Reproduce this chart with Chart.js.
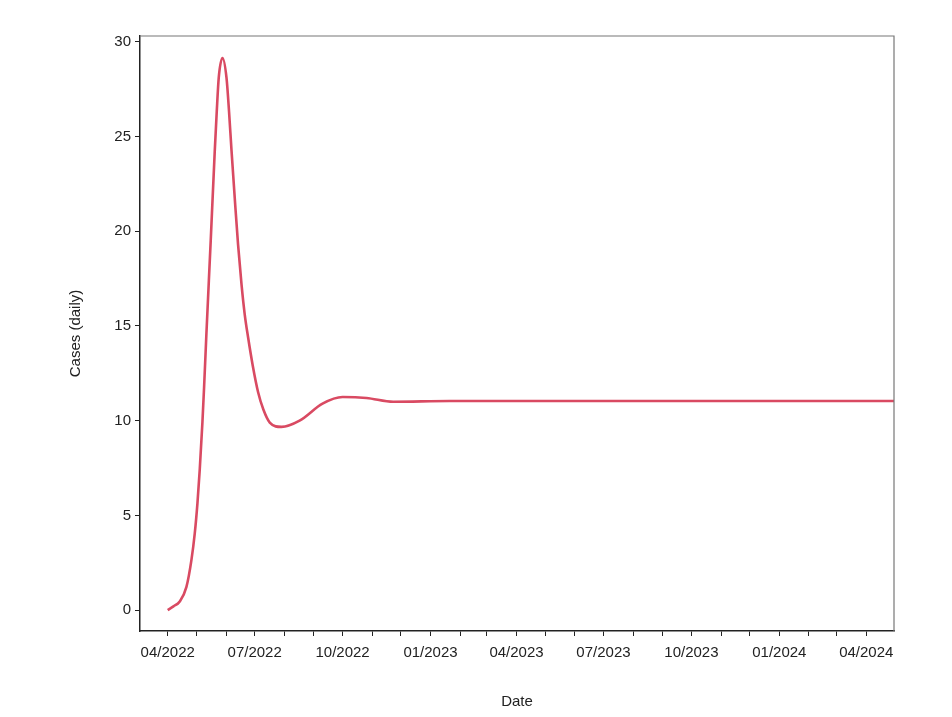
<!DOCTYPE html>
<html>
<head>
<meta charset="utf-8">
<script src="https://cdn.jsdelivr.net/npm/chart.js@4"></script>
<style>
  html, body { margin: 0; padding: 0; background: #fff; }
  #wrap { width: 952px; height: 717px; }
</style>
</head>
<body>
<div id="wrap"><canvas id="casesChart"></canvas></div>
<script>
// days since 01/04/2022
const days  = [0, 6, 12.6, 19.6, 24.8, 28.3, 31.1, 33.5, 36.3, 38.0, 40.5, 45.0, 49.2, 51.3, 53.4, 57.3, 61.5, 64.2, 66.7, 70.2, 73.6, 77.2, 80.6, 84.1, 89.0, 94.6, 100, 106.8, 119, 138, 162, 183, 208, 236, 295, 400, 500, 600, 700, 760];
const cases = [0, 0.2, 0.46, 1.23, 2.64, 4.05, 5.64, 7.4, 9.9, 11.7, 14.6, 19.5, 24.2, 26.3, 28.1, 29.14, 28.1, 26.3, 24.3, 21.7, 19.3, 17.2, 15.6, 14.4, 12.9, 11.5, 10.6, 9.9, 9.67, 10.0, 10.9, 11.25, 11.2, 11.0, 11.04, 11.04, 11.04, 11.04, 11.04, 11.04];
const tickLabels = ['04/2022', '07/2022', '10/2022', '01/2023', '04/2023', '07/2023', '10/2023', '01/2024', '04/2024'];
const yTicks = [0, 5, 10, 15, 20, 25, 30];

// monthly tick positions (days from 01/04/2022)
const start = Date.UTC(2022, 3, 1);
const monthTicks = [];
for (let m = 0; m <= 24; m++) {
  monthTicks.push((Date.UTC(2022, 3 + m, 1) - start) / 86400000);
}

const font = { family: 'Liberation Sans, Arial, sans-serif', size: 15 };
const ink = '#222';

const boxPlugin = {
  id: 'box',
  afterDraw(chart) {
    const { ctx, chartArea: a } = chart;
    ctx.save();
    ctx.strokeStyle = '#777';
    ctx.lineWidth = 1.2;
    ctx.beginPath();
    ctx.moveTo(a.left, a.top);
    ctx.lineTo(a.right, a.top);
    ctx.lineTo(a.right, a.bottom);
    ctx.stroke();
    ctx.restore();
  }
};

new Chart(document.getElementById('casesChart'), {
  type: 'line',
  data: {
    datasets: [{
      data: days.map((d, i) => ({ x: d, y: cases[i] })),
      borderColor: '#d94a62',
      borderWidth: 2.6,
      pointRadius: 0,
      cubicInterpolationMode: 'monotone',
      fill: false
    }]
  },
  options: {
    responsive: true,
    maintainAspectRatio: false,
    animation: false,
    layout: { padding: { left: 0, right: 58, top: 36, bottom: 0 } },
    plugins: { legend: { display: false }, tooltip: { enabled: false } },
    scales: {
      x: {
        type: 'linear',
        min: -29,
        max: 760,
        afterFit(scale) { scale.height = 86; },
        afterBuildTicks(scale) {
          scale.ticks = monthTicks.map(v => ({ value: v }));
        },
        ticks: {
          autoSkip: false,
          maxRotation: 0,
          padding: 8,
          color: ink,
          font,
          callback(value, index) {
            return index % 3 === 0 ? tickLabels[index / 3] : '';
          }
        },
        grid: { drawOnChartArea: false, tickLength: 5, color: ink, tickColor: ink },
        border: { color: ink, width: 1.5 },
        title: { display: true, text: 'Date', color: ink, font, padding: { top: 6, bottom: 6 } }
      },
      y: {
        min: -1.1,
        max: 30.3,
        afterFit(scale) { scale.width = 140; },
        afterBuildTicks(scale) {
          scale.ticks = yTicks.map(v => ({ value: v }));
        },
        ticks: { padding: 4, color: ink, font },
        grid: { drawOnChartArea: false, tickLength: 5, color: ink, tickColor: ink },
        border: { color: ink, width: 1.5 },
        title: { display: true, text: 'Cases (daily)', color: ink, font, padding: { top: 67, bottom: 67 } }
      }
    }
  },
  plugins: [boxPlugin]
});
</script>
</body>
</html>
